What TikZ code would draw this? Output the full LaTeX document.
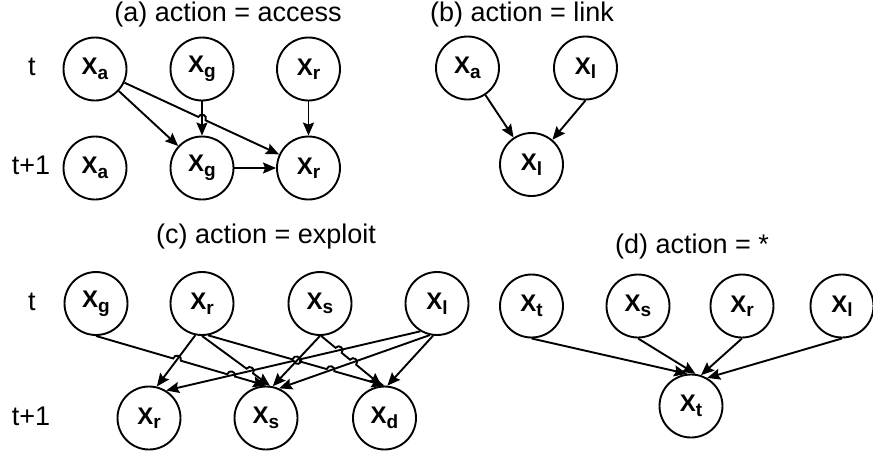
\documentclass[tikz,border=0pt]{standalone}
\usepackage{fontspec}
\setmainfont{Liberation Sans}
\usetikzlibrary{arrows.meta,calc,intersections}
\newcommand{\Xsub}[1]{{\fontsize{24}{24}\selectfont\bfseries X\raisebox{-4.5pt}{\fontsize{19}{19}\selectfont #1}}}
\begin{document}
\begin{tikzpicture}[x=1pt, y=-1pt,
    var/.style={circle, draw=black, line width=1.9pt, minimum size=63pt, inner sep=0pt},
    title/.style={font=\fontsize{27}{27}\selectfont, inner sep=0pt},
    lbl/.style={font=\fontsize{27}{27}\selectfont, inner sep=0pt, anchor=base},
    arr/.style={line width=1.9pt, -{Stealth[length=13pt, width=11pt, inset=2pt]}},
    hop/.style n args={3}{insert path={-- ($(#1)!4pt!(#2)$) to[bend left=90, looseness=1.7] ($(#1)!4pt!(#3)$)}}
]
\useasboundingbox (0,0) rectangle (873,459);

\node[title] (ta) at (228,14.5) {(a) action = access};
\node[title] (tb) at (522,14.5) {(b) action = link};
\node[title] (tc) at (266,237) {(c) action = exploit};
\node[title] (td) at (692,247) {(d) action = *};

\node[lbl] (at) at (32,75) {t};
\node[lbl] (at1) at (31,174) {t+1};
\node[lbl] (ct) at (32,310) {t};
\node[lbl] (ct1) at (31,425) {t+1};

\node[var] (a1a) at (95,69) {\Xsub{a}};
\node[var] (a1g) at (202,69) {\Xsub{g}};
\node[var] (a1r) at (308.5,69) {\Xsub{r}};
\node[var] (a2a) at (95,168) {\Xsub{a}};
\node[var] (a2g) at (202,168) {\Xsub{g}};
\node[var] (a2r) at (308.5,168) {\Xsub{r}};

\path[name path=agg] (a1g) -- (a2g);
\path[name path=aar] (a1a) -- (a2r);
\path[name intersections={of=agg and aar, by=ha}];

\draw[arr] (a1a) -- (a2g);
\draw[arr] (a1a) [hop={ha}{a1a}{a2r}] -- (a2r);
\draw[arr] (a1g) -- (a2g);
\draw[arr] (a1r) -- (a2r);
\draw[arr] (a2g) -- (a2r);

\node[var] (b1a) at (467.5,68) {\Xsub{a}};
\node[var] (b1l) at (585.5,68) {\Xsub{l}};
\node[var] (b2l) at (531.5,164.5) {\Xsub{l}};

\draw[arr] (b1a) -- (b2l);
\draw[arr] (b1l.south) -- (b2l);

\node[var] (c1g) at (96,303.5) {\Xsub{g}};
\node[var] (c1r) at (202,303.5) {\Xsub{r}};
\node[var] (c1s) at (320,303.5) {\Xsub{s}};
\node[var] (c1l) at (437,303.5) {\Xsub{l}};
\node[var] (c2r) at (149,418) {\Xsub{r}};
\node[var] (c2s) at (266,418) {\Xsub{s}};
\node[var] (c2d) at (384.5,418) {\Xsub{d}};

\path[name path=gs] (c1g.south) -- (c2s.north);
\path[name path=rr] (c1r.258) -- (c2r.76);
\path[name path=rs] (c1r.south) -- (c2s.83);
\path[name path=rd] (c1r.281) -- (c2d.north);
\path[name path=ss] (c1s.south) -- (c2s.78);
\path[name path=sd] (c1s.272) -- (c2d.95);
\path[name path=lr] (c1l.239) -- (c2r.58);
\path[name path=ls] (c1l.257) -- (c2s.66);
\path[name intersections={of=gs and rr, by=x1}];
\path[name intersections={of=gs and lr, by=x2}];
\path[name intersections={of=rs and lr, by=x3}];
\path[name intersections={of=rd and ss, by=x4}];
\path[name intersections={of=rd and lr, by=x5}];
\path[name intersections={of=ss and lr, by=x6}];
\path[name intersections={of=rd and ls, by=x7}];
\path[name intersections={of=sd and ls, by=x8}];
\path[name intersections={of=sd and lr, by=x9}];
\coordinate (x45) at ($(x4)!0.5!(x5)$);

\draw[arr] (c1g.south) [hop={x1}{c1g.south}{c2s.north}] [hop={x2}{c1g.south}{c2s.north}] -- (c2s.north);
\draw[arr] (c1r.258) -- (c2r.76);
\draw[arr] (c1r.south) [hop={x3}{c1r.south}{c2s.83}] -- (c2s.83);
\draw[arr] (c1r.281) [hop={x45}{c1r.281}{c2d.north}] [hop={x7}{c1r.281}{c2d.north}] -- (c2d.north);
\draw[arr] (c1s.south) -- (c2s.78);
\draw[arr] (c1s.272) [hop={x9}{c1s.272}{c2d.95}] [hop={x8}{c1s.272}{c2d.95}] -- (c2d.95);
\draw[arr] (c1l.239) [hop={x6}{c1l.239}{c2r.58}] -- (c2r.58);
\draw[arr] (c1l.257) -- (c2s.66);
\draw[arr] (c1l.263) -- (c2d.85);

\node[var] (d1t) at (531.5,306) {\Xsub{t}};
\node[var] (d1s) at (638,306) {\Xsub{s}};
\node[var] (d1r) at (742,306) {\Xsub{r}};
\node[var] (d1l) at (842,306) {\Xsub{l}};
\node[var] (d2t) at (691,406) {\Xsub{t}};

\draw[arr] (d1t.south) -- (d2t.97);
\draw[arr] (d1s.south) -- (d2t.82);
\draw[arr] (d1r.south) -- (d2t.72);
\draw[arr] (d1l.south) -- (d2t.60);
\end{tikzpicture}
\end{document}
